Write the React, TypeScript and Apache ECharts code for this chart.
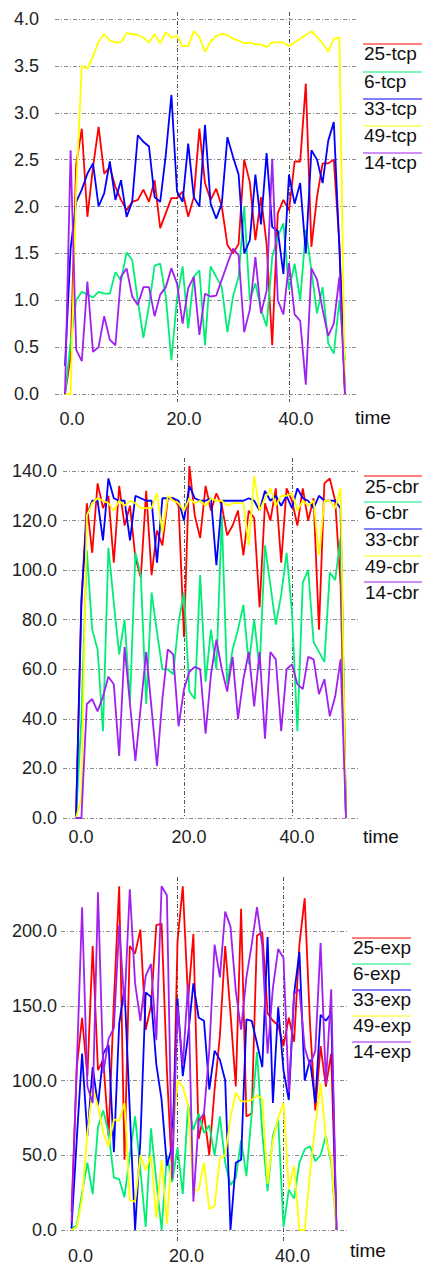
import React, { useEffect, useRef } from 'react';
import * as echarts from 'echarts';

const TIME = [0, 1, 2, 3, 4, 5, 6, 7, 8, 9, 10, 11, 12, 13, 14, 15, 16, 17, 18, 19, 20, 21, 22, 23, 24, 25, 26, 27, 28, 29, 30, 31, 32, 33, 34, 35, 36, 37, 38, 39, 40, 41, 42, 43, 44, 45, 46, 47, 48, 49, 50];

const X_TICKS = [0, 20, 40];
const X_GRID = [20, 40];

// Panel 1: tcp
const TCP_NAMES = ['25-tcp', '6-tcp', '33-tcp', '49-tcp', '14-tcp'];
const TCP_25 = [0, 0.4, 2.45, 2.83, 1.89, 2.42, 2.85, 2.35, 2.42, 2.21, 2.07, 1.96, 2.05, 2.07, 2.18, 2.05, 2.28, 1.77, 1.93, 2.09, 2.09, 2.16, 1.89, 2.1, 2.83, 2.25, 2.07, 2.19, 2.0, 1.59, 1.5, 1.6, 2.5, 2.26, 1.64, 2.1, 1.6, 0.52, 1.93, 2.07, 1.96, 2.48, 2.48, 3.31, 1.57, 2.1, 2.46, 2.46, 2.5, 1.6, 0];
const TCP_6 = [0, 0.55, 1.0, 1.09, 1.06, 1.03, 1.09, 1.07, 1.07, 1.3, 1.21, 1.51, 1.43, 1.0, 0.6, 0.94, 1.37, 1.39, 1.04, 0.36, 1.02, 1.36, 0.7, 1.25, 1.32, 0.52, 1.36, 1.25, 1.14, 0.66, 1.04, 1.25, 2.0, 1.0, 1.18, 0.9, 0.72, 1.46, 1.68, 1.82, 1.11, 1.39, 1.0, 1.75, 1.32, 0.86, 1.14, 0.54, 0.43, 1.0, 0.36];
const TCP_33 = [0.3, 1.55, 2.05, 2.18, 2.35, 2.46, 2.0, 2.14, 2.48, 2.07, 2.28, 1.89, 2.05, 2.76, 2.69, 2.64, 2.1, 2.05, 2.55, 3.19, 2.16, 2.05, 2.67, 2.1, 2.0, 2.87, 2.03, 1.87, 2.03, 2.74, 2.53, 2.34, 1.5, 1.64, 2.34, 1.81, 2.57, 1.78, 1.74, 1.28, 2.34, 2.03, 2.25, 1.5, 2.6, 2.5, 2.25, 2.7, 2.9, 1.55, 0];
const TCP_49 = [0, 0, 2.2, 3.5, 3.47, 3.6, 3.76, 3.84, 3.77, 3.75, 3.75, 3.85, 3.84, 3.83, 3.8, 3.75, 3.84, 3.74, 3.86, 3.8, 3.82, 3.71, 3.71, 3.87, 3.81, 3.65, 3.76, 3.82, 3.84, 3.83, 3.79, 3.77, 3.74, 3.75, 3.73, 3.73, 3.7, 3.75, 3.75, 3.75, 3.71, 3.75, 3.79, 3.83, 3.87, 3.81, 3.74, 3.65, 3.79, 3.8, 0];
const TCP_14 = [0, 2.6, 0.47, 0.35, 1.2, 0.45, 0.5, 0.83, 0.58, 0.52, 1.25, 1.34, 1.04, 0.95, 1.14, 1.14, 0.83, 1.06, 1.14, 1.34, 1.18, 0.75, 1.13, 1.25, 0.63, 1.07, 1.04, 1.05, 1.22, 1.39, 1.55, 1.48, 0.66, 0.9, 1.46, 0.86, 1.1, 2.51, 1.0, 0.85, 1.4, 0.85, 0.78, 0.1, 1.34, 1.22, 0.9, 0.62, 0.75, 1.25, 0];
const TCP_Y_TICKS = [0, 0.5, 1.0, 1.5, 2.0, 2.5, 3.0, 3.5, 4.0];

// Panel 2: cbr
const CBR_NAMES = ['25-cbr', '6-cbr', '33-cbr', '49-cbr', '14-cbr'];
const CBR_25 = [0, 86, 127, 107, 135, 125, 130, 103, 134, 118, 126, 105, 97, 132, 98, 116, 110, 129, 129, 126, 73, 142, 122, 113, 134, 124, 131, 126, 114, 118, 124, 106, 124, 121, 85, 127, 120, 133, 103, 133, 128, 118, 133, 120, 129, 76, 135, 137, 128, 94, 0];
const CBR_6 = [0, 40, 108, 76, 68, 35, 109, 87, 66, 80, 47, 107, 98, 46, 91, 75, 60, 60, 58, 79, 91, 51, 48, 98, 55, 76, 60, 122, 54, 68, 76, 86, 62, 80, 60, 110, 94, 78, 90, 107, 83, 35, 95, 100, 71, 67, 63, 99, 96, 113, 0];
const CBR_33 = [0, 88, 122, 128, 128, 112, 137, 129, 128, 128, 112, 130, 129, 128, 128, 103, 129, 129, 129, 128, 120, 134, 129, 128, 128, 129, 102, 128, 128, 128, 128, 128, 129, 128, 124, 132, 128, 130, 126, 130, 125, 133, 129, 128, 125, 130, 128, 128, 128, 125, 0];
const CBR_49 = [0, 8, 122, 127, 129, 128, 127, 124, 128, 126, 128, 127, 125, 125, 125, 131, 115, 130, 128, 127, 124, 129, 127, 128, 126, 129, 128, 128, 126, 127, 127, 127, 110, 138, 124, 129, 133, 126, 130, 130, 131, 124, 128, 126, 128, 106, 128, 128, 125, 133, 0];
const CBR_14 = [0, 0, 46, 48, 43, 49, 57, 54, 25, 69, 46, 23, 45, 67, 44, 21, 48, 68, 66, 37, 52, 59, 61, 60, 34, 58, 72, 60, 51, 65, 40, 56, 67, 45, 67, 32, 67, 64, 35, 60, 62, 54, 52, 65, 64, 50, 56, 41, 49, 64, 0];
const CBR_Y_TICKS = [0, 20, 40, 60, 80, 100, 120, 140];

// Panel 3: exp
const EXP_NAMES = ['25-exp', '6-exp', '33-exp', '49-exp', '14-exp'];
const EXP_25 = [12, 109, 142, 103, 190, 107, 114, 63, 153, 230, 47, 190, 185, 201, 134, 150, 204, 205, 107, 34, 193, 230, 154, 198, 61, 78, 50, 94, 130, 190, 145, 96, 215, 76, 78, 197, 199, 145, 140, 137, 123, 142, 126, 191, 222, 138, 80, 123, 96, 118, 0];
const EXP_6 = [1, 3, 25, 45, 24, 69, 80, 65, 35, 34, 22, 50, 76, 40, 2, 68, 33, 0, 50, 32, 55, 24, 84, 67, 78, 65, 70, 50, 76, 45, 30, 35, 60, 36, 78, 119, 65, 26, 63, 74, 2, 27, 21, 45, 54, 56, 46, 50, 63, 45, 0];
const EXP_33 = [1, 61, 118, 63, 109, 83, 118, 124, 52, 138, 162, 80, 0, 60, 159, 156, 111, 87, 43, 56, 155, 103, 130, 165, 142, 140, 94, 120, 114, 100, 0, 45, 47, 141, 140, 125, 109, 196, 85, 149, 107, 87, 158, 186, 100, 114, 85, 144, 140, 145, 0];
const EXP_49 = [0, 2, 21, 65, 95, 83, 65, 56, 74, 73, 85, 20, 19, 50, 40, 50, 8, 47, 4, 56, 100, 96, 83, 26, 27, 45, 14, 16, 48, 50, 75, 92, 86, 86, 87, 90, 88, 31, 60, 75, 85, 28, 43, 0, 0, 38, 70, 98, 61, 48, 0];
const EXP_14 = [5, 110, 216, 96, 85, 226, 105, 128, 135, 204, 150, 228, 165, 140, 170, 178, 127, 230, 224, 34, 150, 110, 165, 19, 73, 78, 120, 191, 169, 213, 203, 160, 134, 169, 191, 216, 190, 118, 162, 188, 182, 92, 158, 161, 122, 110, 120, 192, 98, 161, 0];
const EXP_Y_TICKS = [0, 50, 100, 150, 200];

const COLORS = ['#ff0000', '#00ee76', '#0000ff', '#ffff00', '#a020f0'];
const FONT = '"Liberation Sans", Arial, Helvetica, sans-serif';

type Panel = {
  grid: { left: number; top: number; width: number; height: number };
  over: { left: number; top: number; width: number; height: number };
  xMin: number;
  xMax: number;
  yMax: number;
  yTicks: number[];
  yMargin: number;
  xMargin: number;
  xShift: number;
  names: string[];
  series: number[][];
  legendX1: number;
  legendX2: number;
  legendY: number[];
  textDy: number;
  timeX: number;
  timeY: number;
};

const PANELS: Panel[] = [
  {
    grid: { left: 55, top: 19, width: 303, height: 375 },
    over: { left: 55, top: 12, width: 303, height: 390 },
    xMin: -1.786, xMax: 52.32, yMax: 4, yTicks: TCP_Y_TICKS,
    yMargin: 16, xMargin: 16, xShift: 7,
    names: TCP_NAMES, series: [TCP_25, TCP_6, TCP_33, TCP_49, TCP_14],
    legendX1: 363, legendX2: 422, legendY: [44, 72, 99, 126, 153], textDy: 9.5,
    timeX: 355, timeY: 417,
  },
  {
    grid: { left: 63, top: 471, width: 296, height: 347 },
    over: { left: 63, top: 458, width: 296, height: 360 },
    xMin: -2.407, xMax: 52.41, yMax: 140, yTicks: CBR_Y_TICKS,
    yMargin: 6, xMargin: 10, xShift: 5,
    names: CBR_NAMES, series: [CBR_25, CBR_6, CBR_33, CBR_49, CBR_14],
    legendX1: 364, legendX2: 422, legendY: [476, 502, 529, 556, 582], textDy: 10,
    timeX: 363, timeY: 836,
  },
  {
    grid: { left: 61, top: 877, width: 288, height: 356 },
    over: { left: 61, top: 877, width: 288, height: 366 },
    xMin: -1.98, xMax: 52.36, yMax: 236.2, yTicks: EXP_Y_TICKS,
    yMargin: 4, xMargin: 17, xShift: 9,
    names: EXP_NAMES, series: [EXP_25, EXP_6, EXP_33, EXP_49, EXP_14],
    legendX1: 352, legendX2: 411, legendY: [938, 964, 990, 1016, 1042], textDy: 9.5,
    timeX: 350, timeY: 1250,
  },
];

function buildOption() {
  const grids: any[] = [];
  const xAxes: any[] = [];
  const yAxes: any[] = [];
  const series: any[] = [];
  const graphic: any[] = [];

  PANELS.forEach((p, pi) => {
    const gMain = pi * 2;
    const gOver = pi * 2 + 1;
    grids.push({ ...p.grid, containLabel: false });
    grids.push({ ...p.over, containLabel: false });

    xAxes.push({
      type: 'value', gridIndex: gMain, min: p.xMin, max: p.xMax,
      axisLine: { show: false }, axisTick: { show: false },
      splitLine: { show: false },
      axisLabel: {
        customValues: X_TICKS,
        formatter: (v: number) => v.toFixed(1),
        margin: p.xMargin, fontSize: 18, fontFamily: FONT, color: '#222',
        padding: [0, 0, 0, p.xShift * 2],
      },
    });
    xAxes.push({
      type: 'value', gridIndex: gOver, min: p.xMin, max: p.xMax,
      axisLine: { show: false }, axisTick: { show: false, customValues: X_GRID },
      axisLabel: { show: false },
      splitLine: { show: true, lineStyle: { color: '#555', width: 1, type: [4, 2, 1, 2] } },
    });

    yAxes.push({
      type: 'value', gridIndex: gMain, min: 0, max: p.yMax,
      axisLine: { show: false },
      axisTick: { show: false, customValues: p.yTicks },
      axisLabel: {
        customValues: p.yTicks,
        formatter: (v: number) => v.toFixed(1),
        margin: p.yMargin, fontSize: 18, fontFamily: FONT, color: '#222',
      },
      splitLine: { show: true, lineStyle: { color: '#8a8a8a', width: 1, type: [4, 2, 1, 2] } },
    });
    yAxes.push({ type: 'value', gridIndex: gOver, min: 0, max: 1, show: false });

    p.series.forEach((vals, si) => {
      series.push({
        type: 'line', name: p.names[si], xAxisIndex: gMain, yAxisIndex: gMain,
        data: TIME.map((t, i) => [t, vals[i]]),
        symbol: 'none', showSymbol: false, clip: false,
        lineStyle: { color: COLORS[si], width: 1.8 },
        itemStyle: { color: COLORS[si] },
        z: 3 + si,
      });
    });

    p.names.forEach((name, si) => {
      const y = p.legendY[si];
      graphic.push({
        type: 'line', silent: true,
        shape: { x1: p.legendX1, y1: y, x2: p.legendX2, y2: y },
        style: { stroke: COLORS[si], lineWidth: 1 },
      });
      graphic.push({
        type: 'text', silent: true, x: p.legendX1 + 1, y: y + p.textDy,
        style: { text: name, fill: '#111', fontSize: 19, fontFamily: FONT, align: 'left', verticalAlign: 'middle' },
      });
    });
    graphic.push({
      type: 'text', silent: true, x: p.timeX, y: p.timeY,
      style: { text: 'time', fill: '#111', fontSize: 19, fontFamily: FONT, align: 'left', verticalAlign: 'middle' },
    });
  });

  return {
    animation: false,
    backgroundColor: '#ffffff',
    grid: grids,
    xAxis: xAxes,
    yAxis: yAxes,
    series,
    graphic,
  };
}

export default function App() {
  const ref = useRef<HTMLDivElement>(null);
  useEffect(() => {
    if (!ref.current) return;
    const chart = echarts.init(ref.current, null, { renderer: 'svg' });
    chart.setOption(buildOption());
    return () => chart.dispose();
  }, []);
  return (
    <div
      ref={ref}
      style={{ position: 'absolute', left: 0, top: 0, width: 422, height: 1265, background: '#fff' }}
    />
  );
}
